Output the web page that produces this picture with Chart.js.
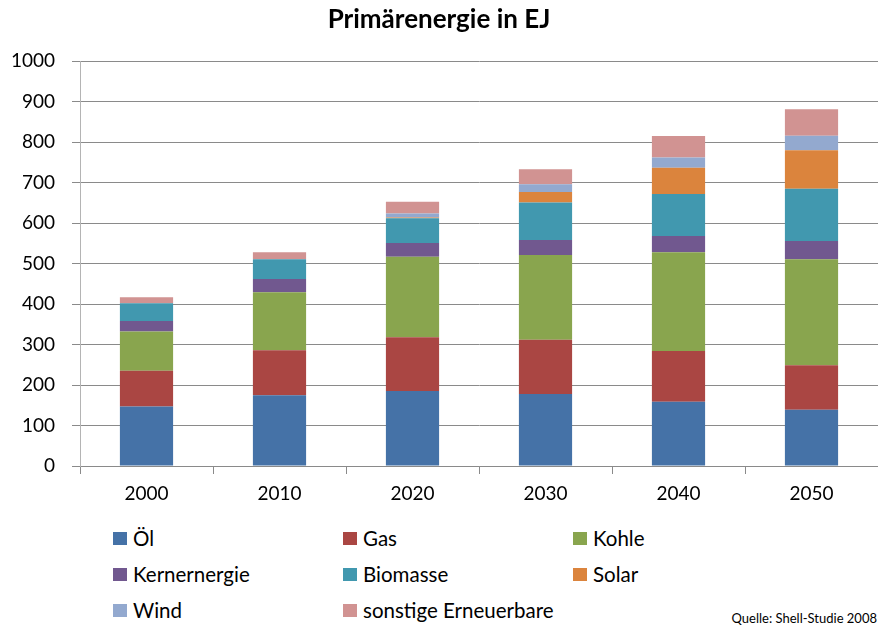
<!DOCTYPE html>
<html>
<head>
<meta charset="utf-8">
<script src="https://cdn.jsdelivr.net/npm/chart.js@4/dist/chart.umd.min.js"></script>
<style>
	body { margin: 0; background: #fff; overflow: hidden; font-family: Lato, sans-serif; }
	#wrap { position: relative; width: 878px; height: 625px; }
	#chartBox { position: absolute; left: 0; top: 0; width: 878px; height: 515px; }
	.item { position: absolute; font-size: 20.5px; color: #000; line-height: 22px; white-space: nowrap; }
	.item span { position: absolute; left: -20px; top: 5px; width: 14px; height: 13px; }
	#source { position: absolute; right: 1px; top: 610px; font-size: 13px; color: #000; }
</style>
</head>
<body>
<div id="wrap">
	<div id="chartBox"><canvas id="myChart"></canvas></div>
	<div id="legend"></div>
	<div id="source">Quelle: Shell-Studie 2008</div>
</div>
<script>
const years = ['2000', '2010', '2020', '2030', '2040', '2050'];

const oel = [147, 175, 185, 178, 159, 139];
const gas = [88, 111, 133, 134, 125, 110];
const kohle = [97, 143, 199, 209, 244, 262];
const kernenergie = [26, 33, 34, 37, 40, 45];
const biomasse = [44, 49, 61, 93, 104, 129];
const solar = [0, 0, 2, 26, 65, 95];
const wind = [0, 0, 10, 19, 25, 36];
const sonstige = [15, 17, 29, 37, 53, 65];

const seriesNames = ['Öl', 'Gas', 'Kohle', 'Kernernergie', 'Biomasse', 'Solar', 'Wind', 'sonstige Erneuerbare'];
const seriesValues = [oel, gas, kohle, kernenergie, biomasse, solar, wind, sonstige];
const colors = ['#4572A7', '#AA4643', '#89A54E', '#71588F', '#4198AF', '#DB843D', '#93A9CF', '#D19392'];

const yTicks = [0, 100, 200, 300, 400, 500, 600, 700, 800, 900, 1000];

const datasets = seriesNames.map((name, i) => {
	return {
		label: name,
		data: seriesValues[i],
		backgroundColor: colors[i],
		borderWidth: 0,
		barPercentage: 0.4,
		categoryPercentage: 1
	}
});

const axisFont = { family: 'Lato', size: 19 };

new Chart(document.getElementById('myChart').getContext('2d'), {
	type: 'bar',
	data: {
		labels: years,
		datasets
	},
	options: {
		responsive: true,
		maintainAspectRatio: false,
		animation: false,
		layout: { padding: { left: 0, right: 0, top: 0, bottom: 0 } },
		plugins: {
			legend: { display: false },
			tooltip: { enabled: false },
			title: {
				display: true,
				text: 'Primärenergie in EJ',
				color: '#000',
				font: { family: 'Lato', size: 26, weight: 'bold' },
				padding: { top: 4, bottom: 26 }
			}
		},
		scales: {
			x: {
				stacked: true,
				grid: {
					offset: true,
					drawOnChartArea: false,
					drawTicks: true,
					tickLength: 8,
					color: '#8a8a8a'
				},
				border: { color: '#8a8a8a' },
				ticks: { color: '#000', font: axisFont, padding: 8 },
				afterFit: scale => { scale.height = 49; }
			},
			y: {
				stacked: true,
				min: 0,
				max: 1000,
				afterBuildTicks: scale => { scale.ticks = yTicks.map(v => ({ value: v })); },
				grid: {
					color: '#8a8a8a',
					tickLength: 8
				},
				border: { color: '#b4b4b4' },
				ticks: { color: '#000', font: axisFont, padding: 17, callback: v => String(v) },
				afterFit: scale => { scale.width = 80; }
			}
		}
	}
});

// legend in three columns like the original
const legendBox = document.getElementById('legend');
const colLeft = [133, 363, 593];
const rowTop = [527, 563, 599];
seriesNames.forEach((name, i) => {
	const item = document.createElement('div');
	item.className = 'item';
	item.style.left = colLeft[i % 3] + 'px';
	item.style.top = rowTop[Math.floor(i / 3)] + 'px';
	item.innerHTML = '<span style="background:' + colors[i] + '"></span>' + name;
	legendBox.appendChild(item);
});
</script>
</body>
</html>
